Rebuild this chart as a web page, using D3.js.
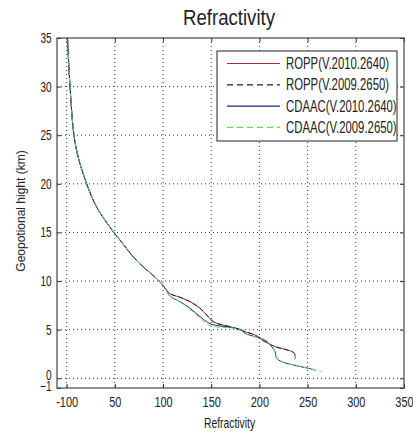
<!DOCTYPE html>
<html>
<head>
<meta charset="utf-8">
<script src="https://cdn.jsdelivr.net/npm/d3@7"></script>
<style>
  body { margin: 0; background: #fff; }
  text { font-family: "Liberation Sans", Arial, sans-serif; fill: #222; }
</style>
</head>
<body>
<div id="chart"></div>
<script>
var svgWidth = 413;
var svgHeight = 437;

var margin = { top: 38, right: 9, bottom: 49, left: 57 };
var width = svgWidth - margin.left - margin.right;
var height = svgHeight - margin.top - margin.bottom;

// tick values and the labels printed under them
var xTicks = [0, 50, 100, 150, 200, 250, 300, 350];
var xTickLabels = ["-100", "50", "100", "150", "200", "250", "300", "350"];
var yTicks = [-1, 0, 5, 10, 15, 20, 25, 30, 35];

// [refractivity, height km]
var upperPart = [[0.9, 35], [3.5, 30], [7.6, 25], [12.1, 22.7], [20.8, 20], [31.2, 17.6],
  [49, 15], [55.4, 14.2], [72.7, 12.1], [97, 9.9], [102.5, 9.2]];

var ropp2010 = upperPart.concat([[107.2, 8.7], [117.6, 8.33], [128, 7.88], [138.4, 7.2],
  [145.3, 6.51], [152.2, 5.82], [159.1, 5.55], [169.5, 5.31], [179.9, 4.97], [185, 4.79],
  [195.4, 4.45], [205.8, 3.76], [216.2, 3.25], [226.5, 2.98], [235.2, 2.67], [236.9, 2.4], [236.9, 1.95]]);

var ropp2009 = upperPart.concat([[107.2, 8.7], [117.6, 8.33], [128, 7.88], [138.4, 7.2],
  [145.3, 6.51], [152.2, 5.82], [159.1, 5.55], [169.5, 5.31], [179.9, 4.97], [185, 4.79],
  [195.4, 4.45], [205.8, 3.76], [216.2, 3.25], [226.5, 2.98], [235.2, 2.67], [236.9, 2.45]]);

var cdaac2010 = upperPart.concat([[107.2, 8.45], [117.6, 7.88], [128, 7.2], [138.4, 6.34],
  [145.3, 5.82], [150.5, 5.55], [159.1, 5.38], [169.5, 5.25], [179.9, 5.04], [185, 4.63],
  [195.4, 4.28], [205.8, 3.94], [212.7, 3.25], [216.2, 2.74], [217.9, 2.06], [223.1, 1.71],
  [235.2, 1.37], [250.7, 1.03], [258, 0.85]]);

var cdaac2009 = upperPart.concat([[107.2, 8.45], [117.6, 7.88], [128, 7.1], [138.4, 6.2],
  [145.3, 5.6], [150.5, 5.35], [159.1, 5.25], [169.5, 5.2], [179.9, 5.0], [185, 4.6],
  [195.4, 4.28], [205.8, 3.94], [212.7, 3.25], [216.2, 2.74], [217.9, 2.06], [223.1, 1.71],
  [235.2, 1.37], [250.7, 1.03], [264.6, 0.68]]);

var seriesNames = ["ROPP(V.2010.2640)", "ROPP(V.2009.2650)", "CDAAC(V.2010.2640)", "CDAAC(V.2009.2650)"];
var seriesData = [ropp2010, ropp2009, cdaac2010, cdaac2009];
var seriesColors = ["#b02a3e", "#222222", "#1a2a80", "#5ee04a"];
var seriesDash = [null, "5,3", null, "5,3"];

var svg = d3.select("#chart")
  .append("svg")
  .attr("width", svgWidth)
  .attr("height", svgHeight);

var chartGroup = svg.append("g")
  .attr("transform", `translate(${margin.left}, ${margin.top})`);

var xScale = d3.scaleLinear().domain([-10, 350]).range([0, width]);
var yScale = d3.scaleLinear().domain([-1, 35]).range([height, 0]);

// narrow-looking text: squeeze horizontally
function narrowText(parent, x, y, size, sx, str, anchor) {
  return parent.append("text")
    .attr("transform", `translate(${x}, ${y}) scale(${sx}, 1)`)
    .attr("text-anchor", anchor || "start")
    .attr("font-size", size)
    .text(str);
}

// dotted grid
chartGroup.selectAll(".vgrid")
  .data(xTicks.slice(0, -1))
  .enter().append("line")
  .attr("x1", d => xScale(d)).attr("x2", d => xScale(d))
  .attr("y1", 0).attr("y2", height)
  .attr("stroke", "#333").attr("stroke-width", 1)
  .attr("stroke-dasharray", "1,3");

chartGroup.selectAll(".hgrid")
  .data(yTicks.filter(d => d > -1 && d < 35))
  .enter().append("line")
  .attr("x1", 0).attr("x2", width)
  .attr("y1", d => yScale(d)).attr("y2", d => yScale(d))
  .attr("stroke", "#333").attr("stroke-width", 1)
  .attr("stroke-dasharray", "1,3");

// curves
var line = d3.line()
  .x(d => xScale(d[0]))
  .y(d => yScale(d[1]))
  .curve(d3.curveCatmullRom.alpha(0.5));

chartGroup.append("clipPath").attr("id", "clip")
  .append("rect").attr("width", width).attr("height", height);

seriesData.forEach(function(data, i) {
  chartGroup.append("path")
    .datum(data)
    .attr("clip-path", "url(#clip)")
    .attr("fill", "none")
    .attr("stroke", seriesColors[i])
    .attr("stroke-width", 1)
    .attr("stroke-dasharray", seriesDash[i])
    .attr("d", line);
});

// axes, ticks pointing inward like matlab
var bottomAxis = d3.axisBottom(xScale).tickValues(xTicks)
  .tickFormat((d, i) => xTickLabels[i]).tickSizeInner(-4).tickSizeOuter(0).tickPadding(8.5);
var topAxis = d3.axisTop(xScale).tickValues(xTicks)
  .tickFormat("").tickSizeInner(-4).tickSizeOuter(0);
var leftAxis = d3.axisLeft(yScale).tickValues(yTicks)
  .tickSizeInner(-4).tickSizeOuter(0).tickPadding(7.5);
var rightAxis = d3.axisRight(yScale).tickValues(yTicks)
  .tickFormat("").tickSizeInner(-4).tickSizeOuter(0);

var gx = chartGroup.append("g").attr("transform", `translate(0, ${height})`).call(bottomAxis);
chartGroup.append("g").call(topAxis);
var gy = chartGroup.append("g").call(leftAxis);
chartGroup.append("g").attr("transform", `translate(${width}, 0)`).call(rightAxis);

chartGroup.selectAll(".domain").remove();
chartGroup.selectAll(".tick line").attr("stroke", "#333");
gx.selectAll("text").attr("font-size", 15).attr("font-family", null)
  .attr("transform", "scale(0.73, 1)").style("fill", "#222");
gy.selectAll("text").attr("font-size", 14).attr("font-family", null)
  .attr("transform", "scale(0.72, 1)").style("fill", "#222");
gy.selectAll(".tick").filter(d => d === -1).select("text").attr("dy", "0.2em");
gy.selectAll(".tick").filter(d => d === 0).select("text").attr("dy", "0.1em");

chartGroup.append("rect")
  .attr("width", width).attr("height", height)
  .attr("fill", "none").attr("stroke", "#444").attr("stroke-width", 1.2);

// legend
var legend = chartGroup.append("g").attr("transform", `translate(${217 - margin.left}, ${51 - margin.top})`);
legend.append("rect")
  .attr("width", 180).attr("height", 90)
  .attr("fill", "#fff").attr("stroke", "#222").attr("stroke-width", 1);

seriesNames.forEach(function(name, i) {
  var ly = 12.5 + i * 21.3;
  legend.append("line")
    .attr("x1", 10).attr("x2", 63).attr("y1", ly).attr("y2", ly)
    .attr("stroke", seriesColors[i]).attr("stroke-width", 1.2)
    .attr("stroke-dasharray", seriesDash[i] ? "6,4" : null);
  narrowText(legend, 69, ly + 5.5, 16, 0.71, name);
});

// titles
narrowText(svg, 229, 25, 23, 0.81, "Refractivity", "middle");
narrowText(svg, 229.5, 427.5, 14, 0.74, "Refractivity", "middle");

svg.append("text")
  .attr("transform", "rotate(-90)")
  .attr("x", -211).attr("y", 25)
  .attr("text-anchor", "middle")
  .attr("font-size", 12)
  .text("Geopotional hight (km)");
</script>
</body>
</html>
